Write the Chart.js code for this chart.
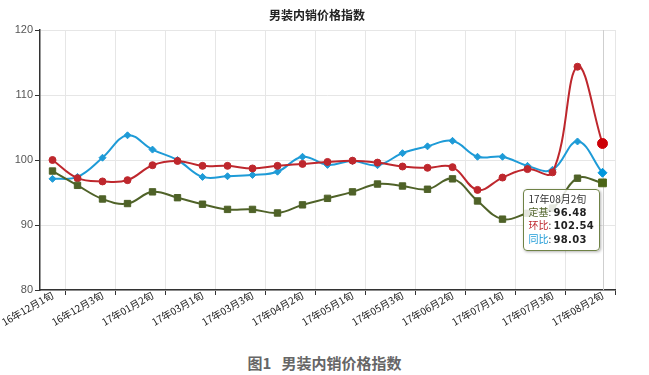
<!DOCTYPE html>
<html>
<head>
<meta charset="utf-8">
<script src="https://cdn.jsdelivr.net/npm/chart.js@4/dist/chart.umd.min.js"></script>
<style>
  body { margin: 0; background: #fff; font-family: "Noto Sans CJK SC", sans-serif; }
  #wrap { position: relative; width: 649px; height: 340px; }
  #tip {
    position: absolute; display: none; pointer-events: none;
    padding: 3px 5px 4px 5px; border: 1px solid #6f8246; border-radius: 4px;
    background: rgba(255, 255, 255, 0.85); box-shadow: 1px 1px 3px rgba(0, 0, 0, 0.3);
    font-size: 10px; line-height: 12.5px; color: #333; white-space: nowrap;
  }
  #tip b { font-family: "DejaVu Sans", sans-serif; font-size: 10px; letter-spacing: 0.3px; color: #222; }
  #caption {
    width: 649px; margin-top: 12px; text-align: center;
    font-size: 15px; font-weight: bold; color: #666;
  }
</style>
</head>
<body>
<div id="wrap">
  <canvas id="priceChart" width="649" height="340"></canvas>
  <div id="tip"></div>
</div>
<div id="caption">图1&nbsp;&nbsp;&nbsp;男装内销价格指数</div>

<script>
const chartTitle = '男装内销价格指数';

const categories = [
  '16年12月1旬', '16年12月2旬', '16年12月3旬', '17年01月1旬', '17年01月2旬', '17年02月3旬',
  '17年03月1旬', '17年03月2旬', '17年03月3旬', '17年04月1旬', '17年04月2旬', '17年04月3旬',
  '17年05月1旬', '17年05月2旬', '17年05月3旬', '17年06月1旬', '17年06月2旬', '17年06月3旬',
  '17年07月1旬', '17年07月2旬', '17年07月3旬', '17年08月1旬', '17年08月2旬'
];

// 定基
const fixedBase = [98.3, 96.1, 94.0, 93.3, 95.1, 94.2, 93.2, 92.4, 92.4, 91.85, 93.1, 94.1,
  95.1, 96.3, 96.0, 95.5, 97.1, 93.7, 90.9, 91.8, 92.6, 97.2, 96.48];
// 环比
const monthOnMonth = [100.0, 97.2, 96.7, 96.9, 99.2, 99.85, 99.1, 99.1, 98.7, 99.1, 99.4, 99.7,
  99.9, 99.6, 99.0, 98.8, 98.9, 95.4, 97.3, 98.6, 98.1, 114.35, 102.54];
// 同比
const yearOnYear = [97.1, 97.4, 100.35, 103.8, 101.6, 100.0, 97.4, 97.5, 97.7, 98.2, 100.5, 99.25,
  99.85, 99.2, 101.05, 102.1, 102.95, 100.5, 100.5, 99.1, 98.5, 102.85, 98.03];

const yTicks = [80, 90, 100, 110, 120];

const GREEN = '#4f6228';
const RED = '#be272d';
const BLUE = '#1e9bd7';

// chart title drawn on canvas, centred like the original
const titlePlugin = {
  id: 'titleText',
  afterDraw(chart) {
    const c = chart.ctx;
    c.save();
    c.font = 'bold 12px "Noto Sans CJK SC"';
    c.fillStyle = '#222';
    c.textAlign = 'center';
    c.textBaseline = 'middle';
    c.fillText(chartTitle, 317, 15);
    c.restore();
  }
};

// vertical axis pointer at the hovered category
const pointerLine = {
  id: 'pointerLine',
  beforeDatasetsDraw(chart) {
    const act = chart.getActiveElements();
    if (!act.length) return;
    const x = act[0].element.x;
    const c = chart.ctx;
    c.save();
    c.strokeStyle = '#cfcfcf';
    c.lineWidth = 1;
    c.beginPath();
    c.moveTo(Math.round(x) + 0.5, chart.chartArea.top);
    c.lineTo(Math.round(x) + 0.5, chart.chartArea.bottom);
    c.stroke();
    c.restore();
  }
};

function externalTooltip(context) {
  const tip = context.tooltip;
  const el = document.getElementById('tip');
  if (tip.opacity === 0) {
    el.style.display = 'none';
    return;
  }
  let html = '<div>' + tip.title[0] + '</div>';
  tip.dataPoints.forEach(p => {
    html += '<div><span style="color:' + p.dataset.borderColor + '">' + p.dataset.label +
      '</span>: <b>' + p.raw.toFixed(2) + '</b></div>';
  });
  el.innerHTML = html;
  el.style.display = 'block';
  el.style.left = (tip.caretX - 80) + 'px';
  el.style.top = (tip.caretY + 23) + 'px';
}

const ctx = document.getElementById('priceChart').getContext('2d');
const chart = new Chart(ctx, {
  type: 'line',
  data: {
    labels: categories,
    datasets: [
      {
        label: '定基',
        data: fixedBase,
        borderColor: GREEN,
        backgroundColor: GREEN,
        borderWidth: 2,
        tension: 0.4,
        pointStyle: 'rect',
        pointRadius: 4.5,
        pointHoverRadius: 5.5,
        pointBorderWidth: 1,
        pointHoverBorderWidth: 1
      },
      {
        label: '环比',
        data: monthOnMonth,
        borderColor: RED,
        backgroundColor: RED,
        borderWidth: 2,
        tension: 0.4,
        pointStyle: 'circle',
        pointRadius: 3.5,
        pointHoverRadius: 5,
        pointBorderWidth: 1,
        pointHoverBorderWidth: 1
      },
      {
        label: '同比',
        data: yearOnYear,
        borderColor: BLUE,
        backgroundColor: BLUE,
        borderWidth: 2,
        tension: 0.4,
        pointStyle: 'rectRot',
        pointRadius: 3.5,
        pointHoverRadius: 4.5,
        pointBorderWidth: 1,
        pointHoverBorderWidth: 1
      }
    ]
  },
  options: {
    responsive: false,
    animation: false,
    devicePixelRatio: 1,
    layout: { padding: { top: 30, right: 34, left: 0, bottom: 0 } },
    interaction: { mode: 'index', intersect: false },
    plugins: {
      legend: { display: false },
      title: { display: false },
      tooltip: { enabled: false, external: externalTooltip }
    },
    scales: {
      x: {
        offset: true,
        grid: {
          offset: true,
          color: c => (c.tick && c.index % 2 === 0) ? 'rgba(0,0,0,0)' : '#e6e6e6',
          tickColor: c => (c.tick && c.index % 2 === 0) ? 'rgba(0,0,0,0)' : '#333',
          tickLength: 5
        },
        border: { display: true, color: '#333', width: 1.5 },
        ticks: {
          autoSkip: false,
          minRotation: 30,
          maxRotation: 30,
          padding: -6,
          color: '#222',
          font: { family: '"Noto Sans CJK SC"', size: 10 },
          callback: function (v, i) { return i % 2 === 0 ? this.getLabelForValue(v) : ''; }
        },
        afterFit: s => { s.height = 50; s.paddingLeft = 0; s.paddingRight = 0; }
      },
      y: {
        min: yTicks[0],
        max: yTicks[yTicks.length - 1],
        afterBuildTicks: s => { s.ticks = yTicks.map(v => ({ value: v })); },
        grid: { color: '#e6e6e6', tickColor: '#333', tickLength: 5 },
        border: { display: true, color: '#333', width: 1.5 },
        ticks: {
          padding: 2,
          color: '#555',
          font: { family: '"Liberation Sans"', size: 11 }
        },
        afterFit: s => { s.width = 40; }
      }
    }
  },
  plugins: [titlePlugin, pointerLine]
});

// show the hover state on the last category, as in the original
const lastIndex = categories.length - 1;
const active = [0, 1, 2].map(i => ({ datasetIndex: i, index: lastIndex }));
chart.setActiveElements(active);
chart.tooltip.setActiveElements(active, { x: 603, y: 180 });
chart.update();
</script>
</body>
</html>
